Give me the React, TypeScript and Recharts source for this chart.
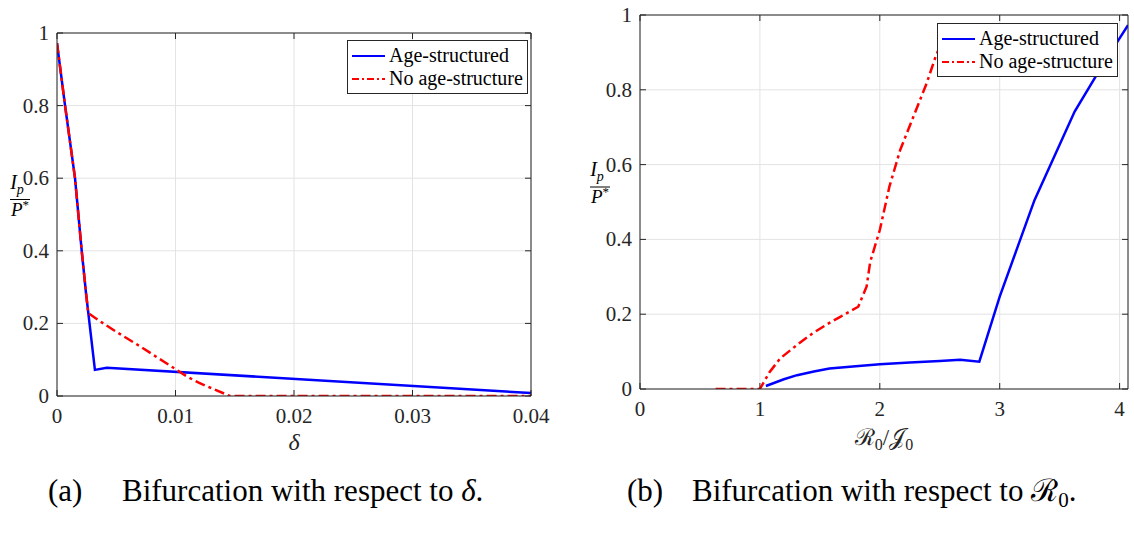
import React from "react";
import { LineChart, Line, XAxis, YAxis, CartesianGrid, Legend } from "recharts";

// (a) bifurcation in delta
const deltaAge = [0, 0.00068, 0.00152, 0.00208, 0.00245, 0.0032, 0.0042, 0.04];
const ipAgeDelta = [0.972, 0.8, 0.6, 0.402, 0.283, 0.072, 0.078, 0.008];
const deltaNoAge = [0, 0.00068, 0.00152, 0.00208, 0.00245, 0.00264, 0.004, 0.005, 0.006, 0.007, 0.008, 0.009, 0.01, 0.011, 0.012, 0.013, 0.0146, 0.02, 0.03, 0.04];
const ipNoAgeDelta = [0.972, 0.8, 0.6, 0.402, 0.283, 0.228, 0.198, 0.177, 0.157, 0.137, 0.116, 0.095, 0.074, 0.053, 0.036, 0.022, 0, 0, 0, 0];

// (b) bifurcation in R0/J0
const r0Age = [1.05, 1.2, 1.31, 1.45, 1.58, 1.8, 2.0, 2.25, 2.5, 2.67, 2.83, 3.0, 3.29, 3.625, 3.85, 3.99, 4.07];
const ipAgeR0 = [0.008, 0.026, 0.037, 0.047, 0.055, 0.061, 0.066, 0.071, 0.075, 0.078, 0.073, 0.247, 0.505, 0.742, 0.862, 0.933, 0.973];
const r0NoAge = [0.63, 1.0, 1.08, 1.17, 1.31, 1.44, 1.56, 1.67, 1.82, 1.89, 1.92, 2.0, 2.08, 2.17, 2.28, 2.39, 2.47, 2.55];
const ipNoAgeR0 = [0, 0, 0.045, 0.082, 0.118, 0.149, 0.173, 0.193, 0.22, 0.274, 0.34, 0.425, 0.541, 0.639, 0.728, 0.817, 0.893, 0.95];

const deltaTicks = [0, 0.01, 0.02, 0.03, 0.04];
const r0Ticks = [0, 1, 2, 3, 4];
const yTicks = [0, 0.2, 0.4, 0.6, 0.8, 1];

const FONT = "'Liberation Serif', 'Times New Roman', serif";
const AXIS = "#262626";
const GRID = "#e3e3e3";
const BLUE = "#0000ff";
const RED = "#ff0000";
const DASH = "10 4 3 4";
const TL = 6;

const pts = (xs: number[], ys: number[]) => xs.map((x, i) => ({ x, y: ys[i] }));

const bottomTick = (p: any) => (
  <g>
    <line x1={p.x} x2={p.x} y1={p.y - 8} y2={p.y - 8 - TL} stroke={AXIS} />
    <text x={p.x} y={p.y} dy={19} textAnchor="middle" fontSize={21} fill={AXIS} fontFamily={FONT}>
      {String(p.payload.value)}
    </text>
  </g>
);
const leftTick = (p: any) => (
  <g>
    <line x1={p.x + 6} x2={p.x + 6 + TL} y1={p.y} y2={p.y} stroke={AXIS} />
    <text x={p.x - 2} y={p.y} dy={7} textAnchor="end" fontSize={21} fill={AXIS} fontFamily={FONT}>
      {String(p.payload.value)}
    </text>
  </g>
);
const topTick = (p: any) => <line x1={p.x} x2={p.x} y1={p.y} y2={p.y + TL} stroke={AXIS} />;
const rightTick = (p: any) => <line x1={p.x} x2={p.x - TL} y1={p.y} y2={p.y} stroke={AXIS} />;

const yFraction = (p: any) => {
  const vb = p.viewBox;
  const cx = 20;
  const ly = vb.y + vb.height / 2 - 15;
  return (
    <g fontFamily={FONT} fill="#000" fontStyle="italic">
      <text x={cx - 3} y={ly - 11} fontSize={20} textAnchor="middle">
        I<tspan fontSize={14} dy={5}>p</tspan>
      </text>
      <line x1={cx - 10} x2={cx + 10} y1={ly} y2={ly} stroke="#000" strokeWidth={1} />
      <text x={cx} y={ly + 16} fontSize={19} textAnchor="middle">
        P<tspan fontSize={13} fontStyle="normal" dy={-7}>*</tspan>
      </text>
    </g>
  );
};

const deltaLabel = (p: any) => {
  const vb = p.viewBox;
  return (
    <text x={vb.x + vb.width / 2} y={vb.y + 54} textAnchor="middle" fontSize={24} fontStyle="italic" fill={AXIS} fontFamily={FONT}>
      δ
    </text>
  );
};

const r0Label = (p: any) => {
  const vb = p.viewBox;
  return (
    <text x={vb.x + vb.width / 2} y={vb.y + 56} textAnchor="middle" fontSize={23} fill={AXIS} fontFamily={FONT}>
      ℛ<tspan fontSize={16} dy={5}>0</tspan>
      <tspan dy={-5}>/𝒥</tspan>
      <tspan fontSize={16} dy={5}>0</tspan>
    </text>
  );
};

function LegendBox() {
  const row = (dash: string | undefined, color: string, label: string) => (
    <div style={{ display: "flex", alignItems: "center", height: 23 }}>
      <svg width={33} height={10} style={{ marginRight: 4 }}>
        <line x1={0} x2={33} y1={5} y2={5} stroke={color} strokeWidth={2} strokeDasharray={dash} />
      </svg>
      <span>{label}</span>
    </div>
  );
  return (
    <div
      style={{
        border: `1px solid ${AXIS}`,
        background: "#fff",
        padding: "3px 4px 3px 4px",
        fontFamily: FONT,
        fontSize: 20,
        color: "#000",
        lineHeight: "23px",
        whiteSpace: "nowrap",
      }}
    >
      {row(undefined, BLUE, "Age-structured")}
      {row("7 3 2 3", RED, "No age-structure")}
    </div>
  );
}

function Panel(props: {
  xDomain: [number, number];
  xTicks: number[];
  age: { x: number; y: number }[];
  noAge: { x: number; y: number }[];
  margin: { top: number; right: number; left: number; bottom: number };
  width: number;
  legendPos: { left: number; top: number };
  xLabel: (p: any) => React.ReactNode;
}) {
  return (
    <LineChart width={props.width} height={470} margin={props.margin}>
      <CartesianGrid stroke={GRID} strokeWidth={1} />
      <XAxis
        type="number"
        dataKey="x"
        domain={props.xDomain}
        ticks={props.xTicks}
        allowDataOverflow
        height={40}
        tickSize={0}
        tickMargin={8}
        tickLine={false}
        axisLine={{ stroke: AXIS }}
        tick={bottomTick}
        label={{ content: props.xLabel }}
      />
      <XAxis
        xAxisId="top"
        orientation="top"
        type="number"
        dataKey="x"
        domain={props.xDomain}
        ticks={props.xTicks}
        allowDataOverflow
        height={1}
        tickSize={0}
        tickMargin={0}
        tickLine={false}
        axisLine={{ stroke: AXIS }}
        tick={topTick}
      />
      <YAxis
        type="number"
        domain={[0, 1]}
        ticks={yTicks}
        allowDataOverflow
        width={50}
        tickSize={0}
        tickMargin={6}
        tickLine={false}
        axisLine={{ stroke: AXIS }}
        tick={leftTick}
        label={{ content: yFraction }}
      />
      <YAxis
        yAxisId="right"
        orientation="right"
        type="number"
        domain={[0, 1]}
        ticks={yTicks}
        allowDataOverflow
        width={1}
        tickSize={0}
        tickMargin={0}
        tickLine={false}
        axisLine={{ stroke: AXIS }}
        tick={rightTick}
      />
      <Line data={props.age} dataKey="y" type="linear" stroke={BLUE} strokeWidth={2.5} dot={false} isAnimationActive={false} />
      <Line
        data={props.noAge}
        dataKey="y"
        type="linear"
        stroke={RED}
        strokeWidth={2.5}
        strokeDasharray={DASH}
        dot={false}
        isAnimationActive={false}
      />
      <Legend
        layout="vertical"
        align="center"
        verticalAlign="middle"
        content={() => <LegendBox />}
        wrapperStyle={{ left: props.legendPos.left, top: props.legendPos.top, width: "auto", height: "auto" }}
      />
    </LineChart>
  );
}

export default function App() {
  return (
    <div style={{ position: "absolute", left: 0, top: 0, width: 1134, height: 534, background: "#fff", fontFamily: FONT }}>
      <div style={{ position: "absolute", left: 0, top: 0 }}>
        <Panel
          width={560}
          xDomain={[0, 0.04]}
          xTicks={deltaTicks}
          age={pts(deltaAge, ipAgeDelta)}
          noAge={pts(deltaNoAge, ipNoAgeDelta)}
          margin={{ top: 32, right: 28, left: 7, bottom: 34 }}
          legendPos={{ left: 347, top: 40 }}
          xLabel={deltaLabel}
        />
      </div>
      <div style={{ position: "absolute", left: 580, top: 0 }}>
        <Panel
          width={554}
          xDomain={[0, 4.07]}
          xTicks={r0Ticks}
          age={pts(r0Age, ipAgeR0)}
          noAge={pts(r0NoAge, ipNoAgeR0)}
          margin={{ top: 14, right: 5, left: 10, bottom: 41 }}
          legendPos={{ left: 357, top: 23 }}
          xLabel={r0Label}
        />
      </div>
      <svg style={{ position: "absolute", left: 0, top: 460 }} width={1134} height={74}>
        <g fontFamily={FONT} fontSize={31} fill="#000">
          <text x={48} y={41}>(a)</text>
          <text x={122} y={41}>
            Bifurcation with respect to <tspan fontStyle="italic">δ</tspan>.
          </text>
          <text x={627} y={41}>(b)</text>
          <text x={692} y={41}>
            Bifurcation with respect to ℛ<tspan fontSize={21} dy={6}>0</tspan>
            <tspan dy={-6}>.</tspan>
          </text>
        </g>
      </svg>
    </div>
  );
}
